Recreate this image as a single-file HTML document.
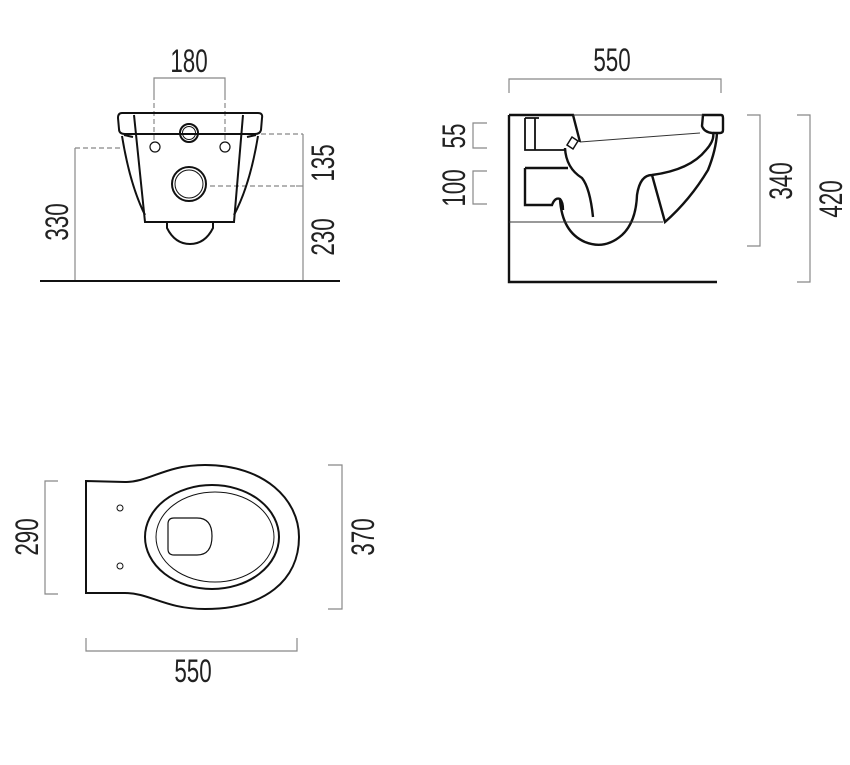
<!DOCTYPE html>
<html><head><meta charset="utf-8"><style>
html,body{margin:0;padding:0;background:#fff;}
svg{display:block;}
text{font-family:"Liberation Sans",sans-serif;font-size:32px;fill:#222;}
</style></head><body>
<svg width="850" height="765" viewBox="0 0 850 765" xmlns="http://www.w3.org/2000/svg">
<g fill="none" stroke="#888" stroke-width="1.2">
 <path d="M154,95 V78 H225 V95"/>
 <path d="M154,95 V140 M225,95 V140" stroke-dasharray="5,3"/>
 <path d="M75,148 H122 M205,134 H303 M210,186 H296" stroke-dasharray="5,3"/>
 <path d="M296,186 H303"/>
 <path d="M75,148 V282 M303,134 V282"/>
 <path d="M509,93 V79 H721 V93"/>
 <path d="M487,123 H473 V148 H487"/>
 <path d="M487,171 H473 V204 H487"/>
 <path d="M747,115 H760 V246 H747"/>
 <path d="M797,115 H810 V282 H797"/>
 <path d="M58,481 H45 V594 H58"/>
 <path d="M328,465 H342 V609 H328"/>
 <path d="M86,638 V651 H297 V638"/>
</g>
<g text-anchor="middle">
 <text transform="translate(189,72) scale(0.7,1)">180</text>
 <text transform="translate(612,71) scale(0.7,1)">550</text>
 <text transform="translate(193,682) scale(0.7,1)">550</text>
 <text transform="translate(68,222) rotate(-90) scale(0.7,1)">330</text>
 <text transform="translate(334,163) rotate(-90) scale(0.7,1)">135</text>
 <text transform="translate(334,237) rotate(-90) scale(0.7,1)">230</text>
 <text transform="translate(465,136) rotate(-90) scale(0.7,1)">55</text>
 <text transform="translate(465,188) rotate(-90) scale(0.7,1)">100</text>
 <text transform="translate(792,181) rotate(-90) scale(0.7,1)">340</text>
 <text transform="translate(842,199) rotate(-90) scale(0.7,1)">420</text>
 <text transform="translate(38,537) rotate(-90) scale(0.7,1)">290</text>
 <text transform="translate(374,537) rotate(-90) scale(0.7,1)">370</text>
</g>
<g fill="none" stroke="#111" stroke-width="2">
 <line x1="40" y1="281" x2="340" y2="281" stroke-width="2"/>
 <path d="M122,113 H258 Q263,113 262,118 L261,130 Q260,134 255,134 H125 Q119,134 119,129 L118,118 Q118,113 122,113 Z"/>
 <path d="M134,115 L145,222 H234 L243,115"/>
 <path d="M122,136 Q130,185 145,215 M258,136 Q250,185 234,215"/>
 <path d="M124,135 L133,137 M256,135 L247,137"/>
 <path d="M167,222 V228 Q175,244 190,244 Q205,244 213,228 V222"/>
 <circle cx="189" cy="133" r="9"/><circle cx="189" cy="133" r="6.5" stroke-width="1"/>
 <circle cx="189" cy="184" r="17"/><circle cx="189" cy="184" r="14" stroke-width="1"/>
 <circle cx="155" cy="147" r="5" stroke-width="1.2"/><circle cx="225" cy="147" r="5" stroke-width="1.2"/>
</g>
<g fill="none" stroke="#111" stroke-width="2.4">
 <path d="M509,115 V282 H717"/>
 <path d="M509,115 H573 L580,142"/>
 <path d="M703,115 H721 Q723,115 723,118 V130 Q723,133 720,133 L712,133 Q704,132 702,126 Z"/>
 <path d="M525,118 V150 H565 M525,118 H539 M535,118 V150" stroke-width="1.8"/>
 <path d="M525,168 H568 M525,168 V205 H552 Q555,197 560,199 Q563,202 563,210"/>
 <path d="M565,148 Q566,168 582,178 Q590,188 593,217"/>
 <path d="M560,199 Q562,232 585,242 Q605,250 622,235 Q636,222 637,195 Q640,175 652,175 Q690,170 706,150 Q715,140 713,132"/>
 <path d="M652,175 L665,222 Q690,200 708,170 Q716,150 717,133"/>
 <path d="M567,145 L572,137 L578,141 L573,149 Z" stroke-width="1.5"/>
</g>
<g fill="none" stroke="#333" stroke-width="1">
 <path d="M573,115 H703 M580,142 L700,133 M509,222 H663"/>
</g>
<g fill="none" stroke="#111" stroke-width="2">
 <path d="M86,481 L125,482 C150,482 165,465 205,465 C265,465 299,500 299,537 C299,580 265,609 205,609 C165,609 150,593 125,593 L86,593 Z"/>
 <ellipse cx="212" cy="537" rx="67" ry="52"/>
 <ellipse cx="215" cy="537" rx="59" ry="45" stroke-width="1"/>
 <path d="M174,518 H197 Q212,518 212,536 Q212,555 197,555 H174 Q168,555 168,549 V524 Q168,518 174,518 Z" stroke-width="1.2"/>
 <circle cx="120" cy="508" r="3" stroke-width="1"/><circle cx="120" cy="566" r="3" stroke-width="1"/>
</g>
</svg>
</body></html>
